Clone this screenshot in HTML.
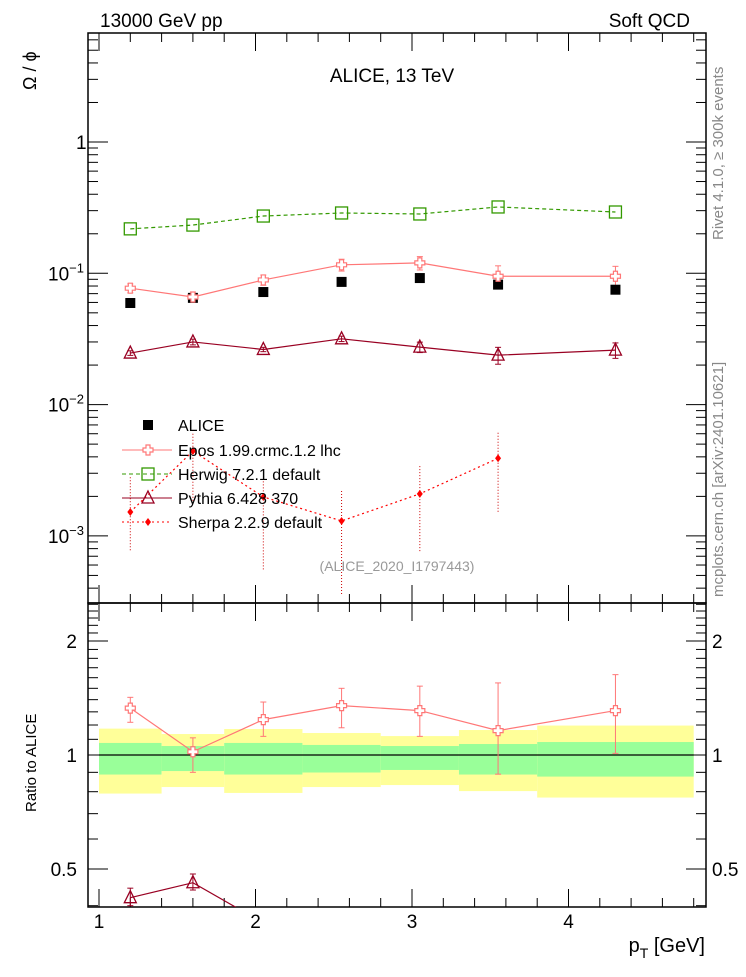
<!DOCTYPE html>
<html><head><meta charset="utf-8"><style>
body{margin:0;background:#fff;}
svg text{font-family:"Liberation Sans",sans-serif;}
</style></head><body>
<svg id="c" width="746" height="972" xmlns="http://www.w3.org/2000/svg">
<rect width="746" height="972" fill="#fff"/>
<text x="100" y="27" font-size="19">13000 GeV pp</text>
<text x="690" y="27" font-size="19" text-anchor="end">Soft QCD</text>
<text x="392" y="82" font-size="19" text-anchor="middle">ALICE, 13 TeV</text>
<text x="397" y="571" font-size="14" fill="#999" text-anchor="middle">(ALICE_2020_I1797443)</text>
<text transform="translate(723,240) rotate(-90)" font-size="15" fill="#888">Rivet 4.1.0, ≥ 300k events</text>
<text transform="translate(723,597) rotate(-90)" font-size="15" fill="#888">mcplots.cern.ch [arXiv:2401.10621]</text>
<text transform="translate(36,90) rotate(-90)" font-size="18">Ω / ϕ</text>
<text transform="translate(36,812) rotate(-90)" font-size="15">Ratio to ALICE</text>
<text x="705" y="952" font-size="20" text-anchor="end">p<tspan font-size="14" dy="6">T</tspan><tspan dy="-6"> [GeV]</tspan></text>
<g id="g"></g>
</svg>
<script>
const xs=[1.2,1.6,2.05,2.55,3.05,3.55,4.3];
const aliceV=[0.0594,0.065,0.072,0.086,0.092,0.082,0.075];
const eposV=[0.077,0.066,0.089,0.116,0.12,0.095,0.095];
const eposErr=[0.006,0.006,0.008,0.012,0.014,0.019,0.018];
const herwigV=[0.218,0.233,0.273,0.288,0.283,0.32,0.293];
const pythiaV=[0.0247,0.030,0.0263,0.0317,0.0274,0.0238,0.026];
const pythiaErr=[0.001,0.0015,0.001,0.0015,0.0025,0.0035,0.0035];
const sherpaX=[1.2,1.6,2.05,2.55,3.05,3.55];
const sherpaV=[0.00152,0.00443,0.00198,0.0013,0.00209,0.0039];
const sherpaLo=[0.00075,0.0018,0.00055,0.00035,0.00075,0.0015];
const sherpaHi=[0.0028,0.006,0.0026,0.0022,0.0034,0.0061];
const binEdges=[1.0,1.4,1.8,2.3,2.8,3.3,3.8,4.8];
const yelHi=[1.174,1.136,1.171,1.143,1.122,1.164,1.196];
const yelLo=[0.791,0.823,0.794,0.823,0.833,0.803,0.772];
const grnHi=[1.076,1.056,1.076,1.063,1.056,1.069,1.082];
const grnLo=[0.888,0.907,0.888,0.899,0.913,0.888,0.877];
const eposR=[1.33,1.02,1.24,1.35,1.31,1.16,1.31];
const eposRLo=[1.22,0.90,1.12,1.18,1.12,0.89,1.01];
const eposRHi=[1.42,1.11,1.38,1.50,1.52,1.55,1.63];
const pythiaR=[0.42,0.46,0.36];
const pythiaRX=[1.2,1.6,2.05];
const xTicks=[1,2,3,4];

const L=88,R=706,T1=33,B1=603,T2=603,B2=907;
const X=v=>99+(v-1)*156.5;
const Y=v=>142-Math.log10(v)*131.3;
const YR=v=>755-Math.log2(v)*114;
const g=document.getElementById('g');
const NS='http://www.w3.org/2000/svg';
function el(t,a,p){const e=document.createElementNS(NS,t);for(const k in a)e.setAttribute(k,a[k]);(p||g).appendChild(e);return e;}

// ratio bands
const bandG=el('g',{});


for(let i=0;i<yelHi.length;i++){
  const r1=el('rect',{x:X(binEdges[i]),width:X(binEdges[i+1])-X(binEdges[i]),y:YR(yelHi[i]),height:YR(yelLo[i])-YR(yelHi[i]),fill:'#ffff99'},bandG);
  
  
  const r2=el('rect',{x:X(binEdges[i]),width:X(binEdges[i+1])-X(binEdges[i]),y:YR(grnHi[i]),height:YR(grnLo[i])-YR(grnHi[i]),fill:'#99ff99'},bandG);
  
  
}
el('line',{x1:X(binEdges[0]),x2:X(binEdges[7]),y1:YR(1),y2:YR(1),stroke:'#000','stroke-width':1.2});

// frames
const f1=el('rect',{x:L,y:T1,width:R-L,height:B1-T1,fill:'none',stroke:'#000','stroke-width':1.5});


const f2=el('rect',{x:L,y:T2,width:R-L,height:B2-T2,fill:'none',stroke:'#000','stroke-width':1.5});



// y ticks main
for(let d=-4;d<=1;d++){for(let m=1;m<10;m++){const v=m*Math.pow(10,d);const y=Y(v);if(y<T1||y>B1)continue;const len=m==1?20:10;
 el('line',{x1:L,x2:L+len,y1:y,y2:y,stroke:'#000'});el('line',{x1:R,x2:R-len,y1:y,y2:y,stroke:'#000'});}}
const ylab=[[1,'1'],[0.1,'10<tspan dy="-8" font-size="13">−1</tspan>'],[0.01,'10<tspan dy="-8" font-size="13">−2</tspan>'],[0.001,'10<tspan dy="-8" font-size="13">−3</tspan>']];
ylab.forEach(([v,t])=>{const e=el('text',{x:v==1?76:48,y:Y(v)+7,'font-size':19});e.innerHTML=t;
 
 });
// ratio y ticks
for(let v=0.3;v<=2.6;v+=0.1){const y=YR(v);if(y<T2||y>B2)continue;const major=Math.abs(v-1)<1e-6||Math.abs(v-2)<1e-6||Math.abs(v-0.5)<1e-6;const len=major?20:10;
 el('line',{x1:L,x2:L+len,y1:y,y2:y,stroke:'#000'});el('line',{x1:R,x2:R-len,y1:y,y2:y,stroke:'#000'});}
[[2,'2'],[1,'1'],[0.5,'0.5']].forEach(([v,t])=>{
 const a=el('text',{x:77,y:YR(v)+7,'font-size':19,'text-anchor':'end'});a.textContent=t;
 
 
 const b=el('text',{x:712,y:YR(v)+7,'font-size':19});b.textContent=t;
 
 });
// x ticks
for(let v=1;v<=4.85;v+=0.2){const x=X(v);const maj=Math.abs(v-Math.round(v))<1e-6;const len=maj?18:9;
 [[B1,-1],[T1,1],[B2,-1],[T2,1]].forEach(([y,s])=>el('line',{x1:x,x2:x,y1:y,y2:y+s*len,stroke:'#000'}));}
xTicks.forEach(v=>{const e=el('text',{x:X(v),y:928,'font-size':19,'text-anchor':'middle'});e.textContent=v;
 
 });

function line(xa,ya,f,color,dash,name,clip){const p=el('polyline',{points:xa.map((x,i)=>X(x)+','+f(ya[i])).join(' '),fill:'none',stroke:color,'stroke-width':1.2,'stroke-dasharray':dash||'','clip-path':clip||''});
 
 }
function err(x,y1,y2,color,dash){el('line',{x1:X(x),x2:X(x),y1:y1,y2:y2,stroke:color,'stroke-dasharray':dash||''});
 el('line',{x1:X(x)-3,x2:X(x)+3,y1:y1,y2:y1,stroke:color});el('line',{x1:X(x)-3,x2:X(x)+3,y1:y2,y2:y2,stroke:color});}
function cross(x,y,c){el('path',{d:`M${x-2},${y-5}h4v3h3v4h-3v3h-4v-3h-3v-4h3z`,fill:'#fff',stroke:c,'stroke-width':1.2});}
function tri(x,y,c){el('path',{d:`M${x},${y-7}L${x+6},${y+5}L${x-6},${y+5}Z`,fill:'none',stroke:c,'stroke-width':1.3});}
function sq(x,y,c){el('rect',{x:x-6,y:y-6,width:12,height:12,fill:'none',stroke:c,'stroke-width':1.3});}
function dia(x,y,c){el('path',{d:`M${x},${y-4}L${x+3},${y}L${x},${y+4}L${x-3},${y}Z`,fill:c});}

// clip for ratio
const defs=el('defs',{});const cp=el('clipPath',{id:'rc'},defs);el('rect',{x:L,y:T2,width:R-L,height:B2-T2},cp);

// Herwig
line(xs,herwigV,Y,'#339900','4,3','herwig-line');
xs.forEach((x,i)=>sq(X(x),Y(herwigV[i]),'#339900'));
// Epos
line(xs,eposV,Y,'#ff7777','','epos-line');
xs.forEach((x,i)=>{err(x,Y(eposV[i]+eposErr[i]),Y(eposV[i]-eposErr[i]),'#ff7777');});
// ALICE
xs.forEach((x,i)=>{const r=el('rect',{x:X(x)-5,y:Y(aliceV[i])-5,width:10,height:10,fill:'#000'});
 
 });
xs.forEach((x,i)=>cross(X(x),Y(eposV[i]),'#ff7777'));
// Pythia
line(xs,pythiaV,Y,'#990022','','pythia-line');
xs.forEach((x,i)=>{err(x,Y(pythiaV[i]+pythiaErr[i]),Y(pythiaV[i]-pythiaErr[i]),'#990022');tri(X(x),Y(pythiaV[i]),'#990022');});
// Sherpa
line(sherpaX,sherpaV,Y,'#ff0000','2,3','sherpa-line');
sherpaX.forEach((x,i)=>{el('line',{x1:X(x),x2:X(x),y1:Y(sherpaHi[i]),y2:Y(sherpaLo[i]),stroke:'#cc0000','stroke-dasharray':'1,2'});dia(X(x),Y(sherpaV[i]),'#ff0000');});

// ratio
line(xs,eposR,YR,'#ff7777','','epos-ratio-line');
xs.forEach((x,i)=>{err(x,YR(eposRHi[i]),YR(eposRLo[i]),'#ff7777');cross(X(x),YR(eposR[i]),'#ff7777');});
line(pythiaRX,pythiaR,YR,'#990022','','pythia-ratio-line','url(#rc)');
[0,1].forEach(i=>{err(pythiaRX[i],YR(pythiaR[i]+0.025),YR(pythiaR[i]-0.02),'#990022');tri(X(pythiaRX[i]),YR(pythiaR[i]),'#990022');});

// legend
const leg=[['ALICE',425],['Epos 1.99.crmc.1.2 lhc',450],['Herwig 7.2.1 default',474],['Pythia 6.428 370',498],['Sherpa 2.2.9 default',522]];
el('rect',{x:143,y:420,width:10,height:10,fill:'#000'});
el('line',{x1:122,x2:172,y1:450,y2:450,stroke:'#ff7777'});cross(148,450,'#ff7777');
el('line',{x1:122,x2:172,y1:474,y2:474,stroke:'#339900','stroke-dasharray':'4,3'});sq(148,474,'#339900');
el('line',{x1:122,x2:172,y1:498,y2:498,stroke:'#990022'});tri(148,498,'#990022');
el('line',{x1:122,x2:172,y1:522,y2:522,stroke:'#ff0000','stroke-dasharray':'2,3'});dia(148,522,'#ff0000');
leg.forEach(([t,y])=>{const e=el('text',{x:178,y:y+6,'font-size':16});e.textContent=t;
 
 });
</script>
</body></html>
